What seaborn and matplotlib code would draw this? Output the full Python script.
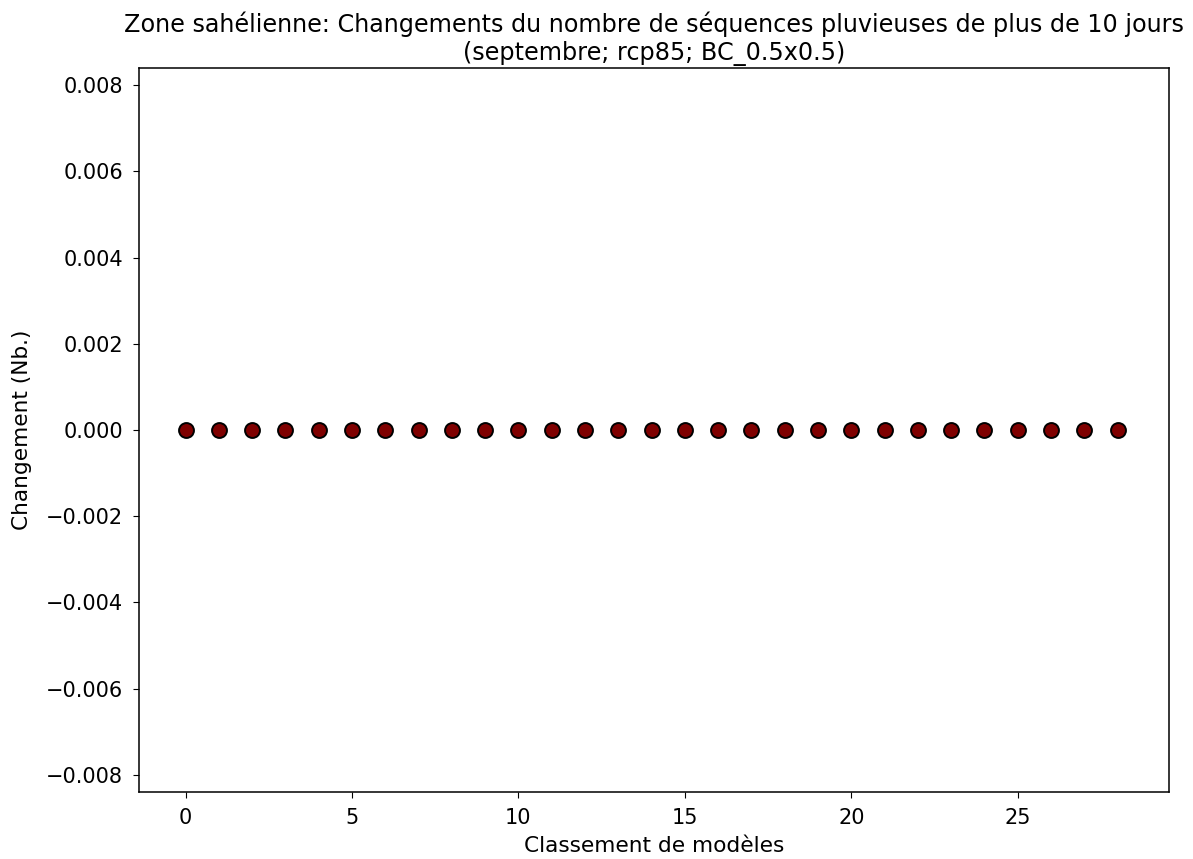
import pandas as pd
import matplotlib
matplotlib.use("Agg")
import matplotlib.pyplot as plt
import seaborn as sns

# model ranking and change values (all zero in this case)
rank = list(range(29))
change = [0.0] * 29

df = pd.DataFrame({'rank': rank, 'change': change})

plt.rcParams['font.size'] = 15
plt.rcParams['axes.linewidth'] = 1.1
fig = plt.figure(figsize=(11.93, 8.59), dpi=100)
ax = fig.add_axes([0.1165, 0.078, 0.8635, 0.843])

sns.scatterplot(x='rank', y='change', data=df, ax=ax, color='#7f0000',
                edgecolor='black', linewidth=1.4, s=115, zorder=3)

ax.set_xlim(-1.4, 29.55)
ax.set_ylim(-0.0084, 0.0084)
ax.set_yticks([-0.008, -0.006, -0.004, -0.002, 0.0, 0.002, 0.004, 0.006, 0.008])
ax.set_xticks([0, 5, 10, 15, 20, 25])
ax.tick_params(labelsize=15, length=4.5, pad=7)

ax.set_title("Zone sahélienne: Changements du nombre de séquences pluvieuses de plus de 10 jours\n(septembre; rcp85; BC_0.5x0.5)", fontsize=17.2)
ax.set_xlabel('Classement de modèles', fontsize=15.6, labelpad=6)
ax.set_ylabel('Changement (Nb.)', fontsize=15.6, labelpad=10)

fig.savefig("out.png", dpi=100)
